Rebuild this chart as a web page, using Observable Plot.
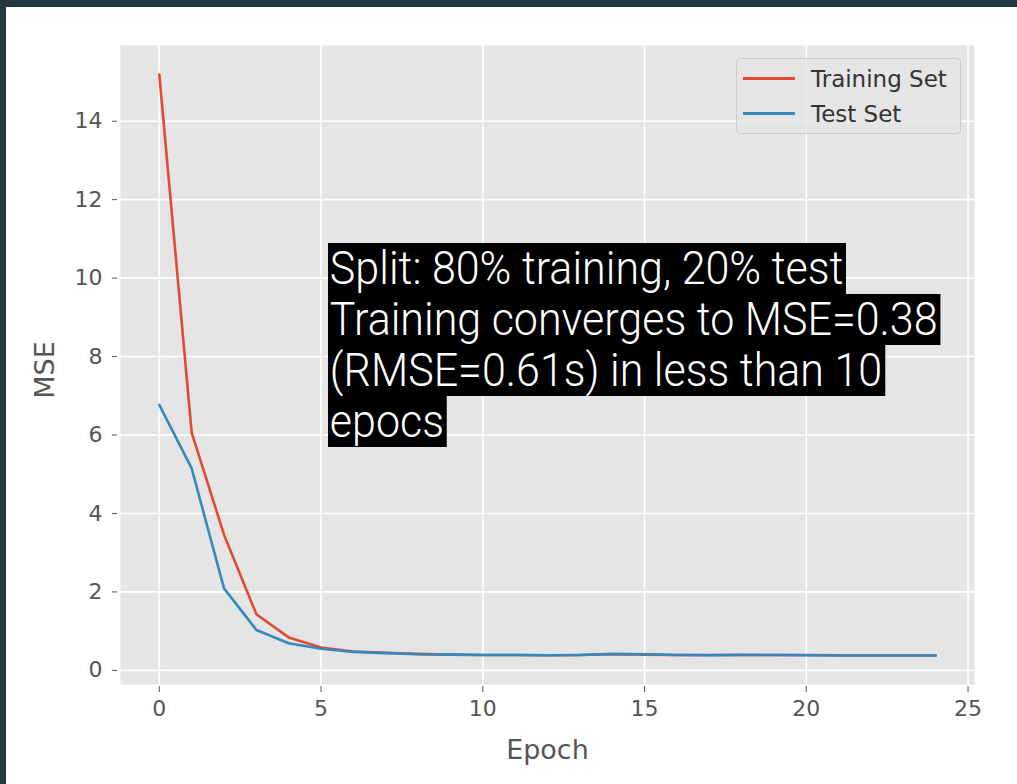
<!DOCTYPE html>
<html>
<head>
<meta charset="utf-8">
<script src="https://cdn.jsdelivr.net/npm/d3@7"></script>
<script src="https://cdn.jsdelivr.net/npm/@observablehq/plot@0.6"></script>
<style>
  html, body { margin: 0; padding: 0; background: #fff; }
  #page { position: relative; width: 1017px; height: 784px; overflow: hidden; background: #fff; }
  #bt { position: absolute; left: 0; top: 0; width: 1017px; height: 7px; background: #233841; }
  #bl { position: absolute; left: 0; top: 0; width: 6px; height: 784px; background: #233841; }
  #chart { position: absolute; left: 6px; top: 7px; }
  #legend { position: absolute; left: 736px; top: 58px; width: 225px; height: 76px;
    background: rgba(229,229,229,0.8); border: 1px solid #cccccc; border-radius: 4px; box-sizing: border-box;
    font-family: "DejaVu Sans", sans-serif; font-size: 23px; color: #333; }
  .li { position: absolute; left: 0; height: 30px; width: 100%; }
  .li .sw { position: absolute; left: 6px; top: 13px; width: 52px; height: 3px; }
  .li .lt { position: absolute; left: 74px; top: 0px; line-height: 30px; white-space: nowrap; }
  #note { position: absolute; left: 328px; top: 241px; font-family: Roboto, sans-serif; font-weight: 300;
    font-size: 46px; color: #fff; transform: scaleX(0.935); transform-origin: left top; }
  #note div { height: 51px; }
  #note span { display: inline-block; background: #000; line-height: 51px; height: 51px; padding: 0 3px 0 2px; white-space: nowrap; }
</style>
</head>
<body>
<div id="page">
  <div id="chart"></div>
  <div id="bt"></div>
  <div id="bl"></div>
  <div id="legend"></div>
  <div id="note"></div>
</div>
<script>
const epochs = d3.range(0, 25);
const trainMSE = [15.19, 6.06, 3.46, 1.43, 0.84, 0.58, 0.48, 0.45, 0.42, 0.40, 0.39, 0.39, 0.385, 0.39, 0.41, 0.40, 0.39, 0.39, 0.395, 0.39, 0.39, 0.385, 0.385, 0.385, 0.38];
const testMSE  = [6.77, 5.15, 2.09, 1.03, 0.69, 0.55, 0.47, 0.44, 0.41, 0.40, 0.39, 0.39, 0.385, 0.39, 0.42, 0.41, 0.39, 0.385, 0.39, 0.39, 0.385, 0.38, 0.38, 0.38, 0.38];
const seriesNames = ["Training Set", "Test Set"];
const seriesColors = ["#E24A33", "#348ABD"];
const xTicks = [0, 5, 10, 15, 20, 25];
const yTicks = [0, 2, 4, 6, 8, 10, 12, 14];
const noteLines = [
  "Split: 80% training, 20% test",
  "Training converges to MSE=0.38",
  "(RMSE=0.61s) in less than 10",
  "epocs"
];

const rows = [];
epochs.forEach((e, i) => {
  rows.push({epoch: e, mse: trainMSE[i], set: seriesNames[0]});
  rows.push({epoch: e, mse: testMSE[i], set: seriesNames[1]});
});

const allVals = trainMSE.concat(testMSE);
const yMin = d3.min(allVals), yMax = d3.max(allVals);
const yPad = (yMax - yMin) * 0.05;
const xPad = (d3.max(epochs) - d3.min(epochs)) * 0.05;

const chart = Plot.plot({
  width: 1011,
  height: 777,
  marginLeft: 114,
  marginTop: 38,
  marginRight: 43,
  marginBottom: 100,
  style: { fontFamily: "DejaVu Sans, sans-serif", background: "transparent" },
  x: { domain: [d3.min(epochs) - xPad, d3.max(epochs) + xPad] },
  y: { domain: [yMin - yPad, yMax + yPad] },
  color: { domain: seriesNames, range: seriesColors },
  marks: [
    Plot.frame({ fill: "#E5E5E5", stroke: null }),
    Plot.gridX(xTicks, { stroke: "#fff", strokeOpacity: 1, strokeWidth: 1.6 }),
    Plot.gridY(yTicks, { stroke: "#fff", strokeOpacity: 1, strokeWidth: 1.6 }),
    Plot.axisX(xTicks, { tickSize: 6, tickPadding: 8, fontSize: 22, fill: "#555", stroke: "#555", label: null, dy: 2 }),
    Plot.axisY(yTicks, { tickSize: 5, tickPadding: 10, fontSize: 22, fill: "#555", stroke: "#555", label: null, dx: -3 }),
    Plot.text(["Epoch"], { frameAnchor: "bottom", dy: 74, fontSize: 27, fill: "#555" }),
    Plot.text(["MSE"], { frameAnchor: "left", textAnchor: "middle", dx: -75, dy: 5, rotate: -90, fontSize: 27, fill: "#555" }),
    Plot.line(rows, { x: "epoch", y: "mse", stroke: "set", z: "set", strokeWidth: 2.6 })
  ]
});
document.getElementById("chart").appendChild(chart);

const legend = document.getElementById("legend");
seriesNames.forEach((name, i) => {
  const item = document.createElement("div");
  item.className = "li";
  item.style.top = (5 + i * 35) + "px";
  const sw = document.createElement("div");
  sw.className = "sw";
  sw.style.background = seriesColors[i];
  const lt = document.createElement("div");
  lt.className = "lt";
  lt.textContent = name;
  item.appendChild(sw);
  item.appendChild(lt);
  legend.appendChild(item);
});

const note = document.getElementById("note");
noteLines.forEach(t => {
  const d = document.createElement("div");
  const s = document.createElement("span");
  s.textContent = t;
  d.appendChild(s);
  note.appendChild(d);
});
</script>
</body>
</html>
